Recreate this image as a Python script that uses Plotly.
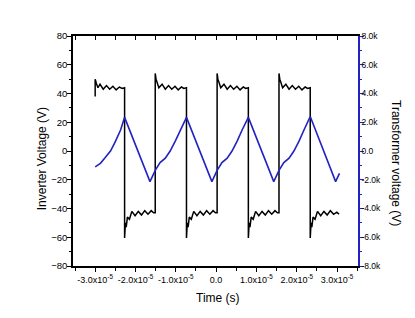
import plotly.graph_objects as go

# ---- data ----
# Inverter voltage (black, left axis), time in s, voltage in V
inv_t = [
    -3.0e-5, -3.0e-5, -2.97e-5, -2.93e-5, -2.88e-5, -2.80e-5, -2.72e-5, -2.64e-5, -2.56e-5, -2.48e-5, -2.40e-5, -2.33e-5, -2.27e-5,
    -2.27e-5, -2.25e-5, -2.23e-5, -2.20e-5, -2.15e-5, -2.09e-5, -2.01e-5, -1.93e-5, -1.85e-5, -1.77e-5, -1.69e-5, -1.61e-5, -1.55e-5, -1.51e-5,
    -1.51e-5, -1.49e-5, -1.46e-5, -1.42e-5, -1.34e-5, -1.26e-5, -1.18e-5, -1.10e-5, -1.02e-5, -0.94e-5, -0.86e-5, -0.80e-5, -0.735e-5,
    -0.735e-5, -0.715e-5, -0.695e-5, -0.665e-5, -0.615e-5, -0.555e-5, -0.475e-5, -0.395e-5, -0.315e-5, -0.235e-5, -0.155e-5, -0.075e-5, -0.015e-5, 0.025e-5,
    0.025e-5, 0.045e-5, 0.075e-5, 0.115e-5, 0.195e-5, 0.275e-5, 0.355e-5, 0.435e-5, 0.515e-5, 0.595e-5, 0.675e-5, 0.735e-5, 0.80e-5,
    0.80e-5, 0.82e-5, 0.84e-5, 0.87e-5, 0.92e-5, 0.98e-5, 1.06e-5, 1.14e-5, 1.22e-5, 1.30e-5, 1.38e-5, 1.46e-5, 1.52e-5, 1.56e-5,
    1.56e-5, 1.58e-5, 1.61e-5, 1.65e-5, 1.73e-5, 1.81e-5, 1.89e-5, 1.97e-5, 2.05e-5, 2.13e-5, 2.21e-5, 2.27e-5, 2.335e-5,
    2.335e-5, 2.355e-5, 2.375e-5, 2.405e-5, 2.455e-5, 2.515e-5, 2.595e-5, 2.675e-5, 2.755e-5, 2.835e-5, 2.915e-5, 2.995e-5, 3.05e-5,
]
inv_v = [
    38, 50, 47, 44, 46.5, 43, 45.5, 43, 45, 42.5, 44.5, 43.5, 44,
    -60.5, -50, -53, -46, -47.5, -42, -45, -42, -44.5, -41.5, -44, -41.5, -43, -43,
    54, 50, 47, 44, 46.5, 43, 45.5, 43, 45, 42.5, 44.5, 43.5, 44,
    -60.5, -50, -53, -46, -47.5, -42, -45, -42, -44.5, -41.5, -44, -41.5, -43, -43,
    54, 50, 47, 44, 46.5, 43, 45.5, 43, 45, 42.5, 44.5, 43.5, 44,
    -60.5, -50, -53, -46, -47.5, -42, -45, -42, -44.5, -41.5, -44, -41.5, -43, -43,
    54, 50, 47, 44, 46.5, 43, 45.5, 43, 45, 42.5, 44.5, 43.5, 44,
    -60.5, -50, -53, -46, -47.5, -42, -45, -42, -44.5, -41.5, -44, -42.5, -44,
]

# Transformer voltage (blue, right axis), time in s, voltage in V
tr_t = [
    -3.0e-5, -2.87e-5, -2.75e-5, -2.62e-5, -2.50e-5, -2.37e-5, -2.27e-5,
    -1.64e-5, -1.51e-5, -1.39e-5, -1.26e-5, -1.14e-5, -1.01e-5, -0.89e-5, -0.735e-5,
    -0.105e-5, 0.025e-5, 0.145e-5, 0.275e-5, 0.395e-5, 0.525e-5, 0.645e-5, 0.80e-5,
    1.43e-5, 1.56e-5, 1.68e-5, 1.81e-5, 1.93e-5, 2.06e-5, 2.18e-5, 2.335e-5,
    2.965e-5, 3.06e-5,
]
tr_v = [
    -1100, -860, -460, 0, 650, 1460, 2340,
    -2130, -1350, -810, -500, 0, 700, 1460, 2340,
    -2130, -1350, -810, -500, 0, 700, 1460, 2340,
    -2130, -1350, -810, -500, 0, 700, 1460, 2400,
    -2130, -1560,
]

# tick labels
x_tickvals = [-3e-5, -2e-5, -1e-5, 0, 1e-5, 2e-5, 3e-5]
x_ticktext = ["-3.0x10<sup>-5</sup>", "-2.0x10<sup>-5</sup>", "-1.0x10<sup>-5</sup>", "0.0",
              "1.0x10<sup>-5</sup>", "2.0x10<sup>-5</sup>", "3.0x10<sup>-5</sup>"]
x_minorvals = [-3.5e-5, -2.5e-5, -1.5e-5, -0.5e-5, 0.5e-5, 1.5e-5, 2.5e-5, 3.5e-5]
x_topvals = [-3.5e-5, -3e-5, -2.5e-5, -2e-5, -1.5e-5, -1e-5, -0.5e-5, 0, 0.5e-5, 1e-5, 1.5e-5, 2e-5, 2.5e-5, 3e-5, 3.5e-5]
y2_tickvals = [8000, 6000, 4000, 2000, 0, -2000, -4000, -6000, -8000]
y2_ticktext = ["8.0k", "6.0k", "4.0k", "2.0k", "0.0", "-2.0k", "-4.0k", "-6.0k", "-8.0k"]
y2_minorvals = [7000, 5000, 3000, 1000, -1000, -3000, -5000, -7000]

BLUE = "#2222c4"
FONT = "Liberation Sans, Arial, sans-serif"
XR = [-3.55e-5, 3.52e-5]

fig = go.Figure()
fig.add_trace(go.Scatter(x=inv_t, y=inv_v, mode="lines",
                         line=dict(color="black", width=1.5), yaxis="y", showlegend=False))
fig.add_trace(go.Scatter(x=tr_t, y=tr_v, mode="lines",
                         line=dict(color=BLUE, width=1.6), yaxis="y2", showlegend=False))
# helper trace so the top axis is drawn
fig.add_trace(go.Scatter(x=[0], y=[0], mode="markers", marker=dict(opacity=0),
                         xaxis="x2", yaxis="y", showlegend=False, hoverinfo="skip"))

fig.update_layout(
    width=415, height=318,
    margin=dict(l=65, r=65, t=28, b=60),
    paper_bgcolor="white", plot_bgcolor="white",
    font=dict(family=FONT, size=9, color="black"),
    xaxis=dict(range=XR, tickmode="array", tickvals=x_tickvals, ticktext=x_ticktext,
               ticks="outside", ticklen=4, tickwidth=1, tickcolor="black",
               tickangle=0, tickfont=dict(size=9),
               showline=True, linecolor="black", linewidth=1.5,
               showgrid=False, zeroline=False,
               minor=dict(tickmode="array", tickvals=x_minorvals, ticks="outside",
                          ticklen=3, tickcolor="black")),
    xaxis2=dict(range=XR, overlaying="x", side="top", tickmode="array", tickvals=x_topvals,
                ticks="inside", ticklen=4, tickcolor="black", showticklabels=False,
                showline=True, linecolor="black", linewidth=1.5,
                showgrid=False, zeroline=False),
    yaxis=dict(range=[-80, 80], tickmode="linear", tick0=-80, dtick=20,
               ticks="outside", ticklen=4, tickcolor="black", tickfont=dict(size=9.5),
               ticklabelstandoff=-2,
               showline=True, linecolor="black", linewidth=1.5,
               showgrid=False, zeroline=False,
               minor=dict(dtick=10, ticks="outside", ticklen=2, tickcolor="black")),
    yaxis2=dict(range=[-8000, 8000], overlaying="y", side="right",
                tickmode="array", tickvals=y2_tickvals, ticktext=y2_ticktext,
                ticks="outside", ticklen=4, tickcolor=BLUE, tickfont=dict(size=8.5),
                ticklabelstandoff=-4,
                showline=True, linecolor=BLUE, linewidth=1.5,
                showgrid=False, zeroline=False,
                minor=dict(tickmode="array", tickvals=y2_minorvals, ticks="outside",
                           ticklen=2, tickcolor=BLUE)),
    annotations=[
        dict(text="Inverter Voltage (V)", xref="paper", yref="paper", x=-0.109, y=0.468,
             xanchor="center", yanchor="middle",
             textangle=-90, showarrow=False, font=dict(size=12, family=FONT)),
        dict(text="Transformer voltage (V)", xref="paper", yref="paper", x=1.133, y=0.448,
             xanchor="center", yanchor="middle",
             textangle=90, showarrow=False, font=dict(size=12, family=FONT)),
        dict(text="Time (s)", xref="paper", yref="paper", x=0.509, y=-0.139,
             xanchor="center", yanchor="middle",
             showarrow=False, font=dict(size=12, family=FONT)),
    ],
)

fig.write_html("out.html")
